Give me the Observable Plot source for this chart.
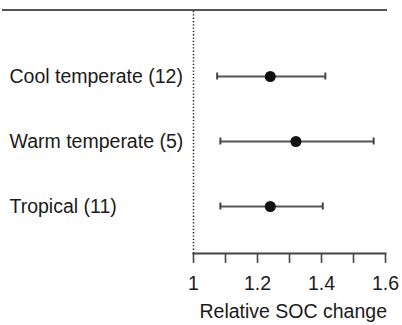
<!DOCTYPE html>
<html>
<head>
<meta charset="utf-8">
<script src="https://cdn.jsdelivr.net/npm/d3@7"></script>
<script src="https://cdn.jsdelivr.net/npm/@observablehq/plot@0.6"></script>
<style>
  html, body { margin: 0; padding: 0; background: #fff; }
  #topline { width: 385px; height: 9px; margin-left: 2px; border-bottom: 2px solid #555; }
  #chart svg { display: block; }
</style>
</head>
<body>
<div id="topline"></div>
<div id="chart"></div>
<script>
const categories = ["Cool temperate (12)", "Warm temperate (5)", "Tropical (11)"];
const means = [1.24, 1.32, 1.24];
const lows = [1.074, 1.084, 1.084];
const highs = [1.412, 1.563, 1.404];
const xTicks = [1, 1.1, 1.2, 1.3, 1.4, 1.5, 1.6];
const xTickLabels = ["1", "", "1.2", "", "1.4", "", "1.6"];
const xLabel = "Relative SOC change";

const data = categories.map((c, i) => ({cat: c, mean: means[i], lo: lows[i], hi: highs[i]}));

const font = "'Liberation Sans', Arial, Helvetica, sans-serif";

const chart = Plot.plot({
  width: 402,
  height: 314,
  marginTop: 0,
  marginBottom: 72,
  marginLeft: 193,
  marginRight: 17,
  style: {fontFamily: font, fontSize: "19.5px", color: "#1a1a1a", background: "#fff"},
  x: {domain: [1, 1.6]},
  y: {type: "point", domain: categories, padding: 0, insetTop: 64, insetBottom: 47},
  marks: [
    Plot.ruleX([1], {stroke: "#222", strokeWidth: 1.5, strokeDasharray: "1.3,2"}),
    Plot.frame({anchor: "bottom", stroke: "#444", strokeWidth: 2}),
    Plot.axisX({
      ticks: xTicks,
      tickFormat: (d) => xTickLabels[xTicks.indexOf(d)],
      tickSize: 10,
      tickPadding: 12.5,
      stroke: "#444",
      strokeWidth: 1.6,
      fontSize: 19.5,
      label: null
    }),
    Plot.text([xLabel], {frameAnchor: "bottom-right", textAnchor: "end", lineAnchor: "top", dx: 1.5, dy: 51, fontSize: 19.5, fill: "#1a1a1a"}),
    Plot.axisY({tickSize: 0, tickPadding: 184, textAnchor: "start", fontSize: 19.5, label: null}),
    Plot.ruleY(data, {y: "cat", x1: "lo", x2: "hi", stroke: "#555", strokeWidth: 2}),
    Plot.ruleX(data, {x: "lo", y1: "cat", y2: "cat", insetTop: -3.5, insetBottom: -3.5, stroke: "#444", strokeWidth: 2}),
    Plot.ruleX(data, {x: "hi", y1: "cat", y2: "cat", insetTop: -3.5, insetBottom: -3.5, stroke: "#444", strokeWidth: 2}),
    Plot.dot(data, {x: "mean", y: "cat", r: 5.5, fill: "#111", stroke: "none"})
  ]
});
document.getElementById("chart").appendChild(chart);
</script>
</body>
</html>
